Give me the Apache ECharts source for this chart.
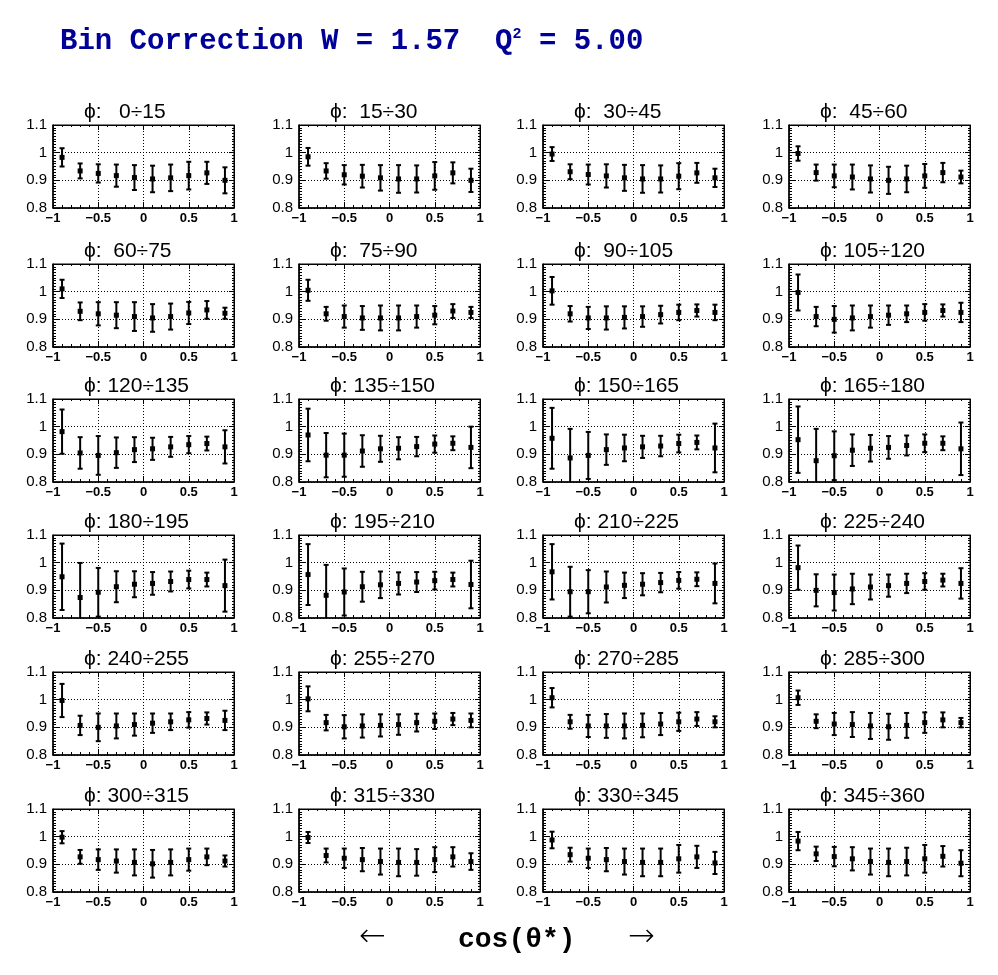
<!DOCTYPE html>
<html><head><meta charset="utf-8">
<script src="https://cdn.jsdelivr.net/npm/echarts@6/dist/echarts.min.js"></script>
<style>html,body{margin:0;padding:0;background:#fff}#c{width:998px;height:975px}</style>
</head><body><div id="c"></div>
<script>
// ---------------- data ----------------
const cosTheta = [-0.9, -0.7, -0.5, -0.3, -0.1, 0.1, 0.3, 0.5, 0.7, 0.9];
const phiLow  = [0, 15, 30, 45, 60, 75, 90, 105, 120, 135, 150, 165, 180, 195, 210, 225, 240, 255, 270, 285, 300, 315, 330, 345];
const phiHigh = [15, 30, 45, 60, 75, 90, 105, 120, 135, 150, 165, 180, 195, 210, 225, 240, 255, 270, 285, 300, 315, 330, 345, 360];
const xTickValues = [-1, -0.5, 0, 0.5, 1];
const yTickValues = [0.8, 0.9, 1.0, 1.1];
const values = [
  [0.983,0.934,0.925,0.917,0.910,0.905,0.909,0.917,0.927,0.900],
  [0.985,0.934,0.920,0.915,0.909,0.905,0.905,0.916,0.927,0.900],
  [0.995,0.931,0.921,0.916,0.909,0.905,0.905,0.915,0.927,0.909],
  [0.997,0.928,0.916,0.912,0.905,0.900,0.905,0.916,0.928,0.912],
  [1.010,0.929,0.920,0.915,0.910,0.905,0.910,0.923,0.934,0.922],
  [1.005,0.920,0.910,0.905,0.905,0.905,0.910,0.915,0.930,0.925],
  [1.003,0.920,0.905,0.905,0.907,0.910,0.917,0.925,0.932,0.925],
  [0.997,0.910,0.900,0.905,0.910,0.915,0.920,0.925,0.932,0.925],
  [0.982,0.905,0.896,0.906,0.917,0.920,0.927,0.935,0.939,0.927],
  [0.970,0.897,0.897,0.912,0.920,0.922,0.928,0.937,0.940,0.925],
  [0.958,0.887,0.896,0.917,0.923,0.927,0.930,0.939,0.943,0.923],
  [0.953,0.877,0.895,0.915,0.922,0.925,0.932,0.940,0.940,0.920],
  [0.949,0.874,0.893,0.913,0.922,0.925,0.932,0.939,0.939,0.917],
  [0.957,0.882,0.894,0.913,0.920,0.925,0.930,0.935,0.939,0.921],
  [0.967,0.895,0.895,0.912,0.918,0.922,0.928,0.936,0.940,0.925],
  [0.982,0.900,0.892,0.905,0.912,0.917,0.925,0.932,0.937,0.925],
  [0.997,0.907,0.900,0.905,0.910,0.915,0.920,0.927,0.932,0.925],
  [1.003,0.917,0.902,0.905,0.907,0.910,0.917,0.922,0.930,0.925],
  [1.007,0.920,0.905,0.905,0.905,0.907,0.912,0.920,0.930,0.920],
  [1.007,0.922,0.912,0.910,0.905,0.902,0.907,0.917,0.927,0.917],
  [0.998,0.927,0.917,0.912,0.907,0.902,0.907,0.917,0.927,0.912],
  [0.997,0.932,0.922,0.917,0.910,0.907,0.907,0.917,0.927,0.910],
  [0.988,0.935,0.922,0.917,0.910,0.907,0.907,0.920,0.927,0.905],
  [0.984,0.938,0.928,0.920,0.910,0.907,0.910,0.920,0.929,0.904]
];
const errors = [
  [0.033,0.027,0.033,0.040,0.045,0.048,0.048,0.050,0.040,0.047],
  [0.032,0.028,0.035,0.041,0.046,0.050,0.049,0.050,0.038,0.042],
  [0.025,0.027,0.036,0.042,0.047,0.050,0.049,0.047,0.036,0.033],
  [0.026,0.029,0.041,0.045,0.049,0.049,0.048,0.043,0.035,0.023],
  [0.033,0.032,0.042,0.047,0.052,0.050,0.047,0.040,0.032,0.020],
  [0.038,0.025,0.040,0.043,0.045,0.045,0.040,0.033,0.025,0.020],
  [0.050,0.028,0.040,0.042,0.040,0.037,0.032,0.028,0.022,0.028],
  [0.065,0.035,0.048,0.045,0.040,0.035,0.030,0.030,0.022,0.035],
  [0.080,0.057,0.070,0.055,0.045,0.040,0.036,0.031,0.025,0.060],
  [0.095,0.080,0.078,0.057,0.047,0.040,0.035,0.031,0.025,0.075],
  [0.110,0.105,0.085,0.055,0.048,0.040,0.037,0.032,0.025,0.088],
  [0.120,0.115,0.088,0.057,0.048,0.041,0.036,0.032,0.025,0.095],
  [0.120,0.125,0.088,0.056,0.047,0.041,0.036,0.032,0.025,0.094],
  [0.110,0.110,0.085,0.054,0.048,0.040,0.036,0.032,0.025,0.086],
  [0.100,0.090,0.078,0.056,0.046,0.040,0.035,0.030,0.025,0.072],
  [0.080,0.058,0.065,0.055,0.045,0.040,0.035,0.030,0.023,0.055],
  [0.060,0.035,0.050,0.045,0.040,0.035,0.030,0.028,0.022,0.035],
  [0.045,0.028,0.042,0.042,0.040,0.037,0.032,0.028,0.022,0.025],
  [0.035,0.025,0.040,0.043,0.045,0.043,0.040,0.033,0.025,0.020],
  [0.026,0.025,0.040,0.045,0.047,0.047,0.045,0.037,0.027,0.017],
  [0.022,0.025,0.037,0.042,0.047,0.050,0.047,0.040,0.030,0.020],
  [0.020,0.025,0.035,0.042,0.047,0.050,0.048,0.045,0.035,0.030],
  [0.030,0.025,0.035,0.042,0.047,0.050,0.050,0.050,0.040,0.040],
  [0.033,0.026,0.035,0.042,0.047,0.050,0.050,0.050,0.037,0.047]
];

// ---------------- layout ----------------
const colLeft = [53, 299, 543, 789];
const rowTop = [125, 264, 399, 535, 672, 809];
const PW = 181, PH = 83;
const Y_MIN = yTickValues[0], Y_MAX = yTickValues[yTickValues.length - 1];
const X_MIN = xTickValues[0], X_MAX = xTickValues[xTickValues.length - 1];
const SANS = 'Liberation Sans, Arial, Helvetica, sans-serif';
const MONO = 'Liberation Mono, Courier New, monospace';

const grids = [], xAxes = [], yAxes = [], series = [], titles = [];
const N = values.length;

function fmtX(v) {
  const r = Math.round(v * 100) / 100;
  return r < 0 ? '\u2212' + Math.abs(r) : String(r);
}

function renderItem(params, api) {
  const x = api.value(0), y = api.value(1), e = api.value(2);
  const lo = Math.max(y - e, Y_MIN), hi = Math.min(y + e, Y_MAX);
  const pc = api.coord([x, y]);
  const pl = api.coord([x, lo]);
  const ph = api.coord([x, hi]);
  const st = { stroke: '#000', lineWidth: 2 };
  const ch = [{ type: 'line', shape: { x1: pc[0], y1: pl[1], x2: pc[0], y2: ph[1] }, style: st }];
  const cw = 2.5;
  if (y - e >= Y_MIN) ch.push({ type: 'line', shape: { x1: pc[0] - cw, y1: pl[1], x2: pc[0] + cw, y2: pl[1] }, style: st });
  if (y + e <= Y_MAX) ch.push({ type: 'line', shape: { x1: pc[0] - cw, y1: ph[1], x2: pc[0] + cw, y2: ph[1] }, style: st });
  ch.push({ type: 'rect', shape: { x: pc[0] - 2.5, y: pc[1] - 2.5, width: 5, height: 5 }, style: { fill: '#000' } });
  return { type: 'group', children: ch };
}

for (let k = 0; k < N; k++) {
  const r = Math.floor(k / 4), c = k % 4;
  grids.push({ left: colLeft[c], top: rowTop[r], width: PW, height: PH, show: true,
    borderColor: '#000', borderWidth: 1, backgroundColor: 'transparent', containLabel: false });
}
for (let k = 0; k < N; k++) {
  xAxes.push({ type: 'value', gridIndex: k, position: 'bottom', min: X_MIN, max: X_MAX, interval: 0.5,
    axisLine: { show: true, onZero: false, lineStyle: { color: '#000', width: 1.5 } },
    axisTick: { show: true, inside: true, length: 6, lineStyle: { color: '#000', width: 1 } },
    minorTick: { show: true, splitNumber: 5, length: 3, lineStyle: { color: '#000', width: 1 } },
    axisLabel: { show: true, margin: 4, color: '#000', fontFamily: SANS, fontWeight: 'bold', fontSize: 13, formatter: fmtX },
    splitLine: { show: true, lineStyle: { color: '#000', width: 1, type: [1, 2] } } });
  yAxes.push({ type: 'value', gridIndex: k, position: 'left', min: Y_MIN, max: Y_MAX, interval: 0.1,
    axisLine: { show: true, onZero: false, lineStyle: { color: '#000', width: 1.5 } },
    axisTick: { show: true, inside: true, length: 6, lineStyle: { color: '#000', width: 1 } },
    minorTick: { show: true, splitNumber: 10, length: 3, lineStyle: { color: '#000', width: 1 } },
    axisLabel: { show: true, margin: 6, color: '#000', fontFamily: SANS, fontSize: 15,
      formatter: v => String(Math.round(v * 100) / 100) },
    splitLine: { show: true, lineStyle: { color: '#000', width: 1, type: [1, 2] } } });
}
for (let k = 0; k < N; k++) {
  xAxes.push({ type: 'value', gridIndex: k, position: 'top', min: X_MIN, max: X_MAX, interval: 0.5,
    axisLine: { show: true, onZero: false, lineStyle: { color: '#000', width: 1 } },
    axisTick: { show: true, inside: true, length: 5, lineStyle: { color: '#000', width: 1 } },
    minorTick: { show: true, splitNumber: 5, length: 2, lineStyle: { color: '#000', width: 1 } },
    axisLabel: { show: false }, splitLine: { show: false } });
  yAxes.push({ type: 'value', gridIndex: k, position: 'right', min: Y_MIN, max: Y_MAX, interval: 0.1,
    axisLine: { show: true, onZero: false, lineStyle: { color: '#000', width: 1 } },
    axisTick: { show: true, inside: true, length: 5, lineStyle: { color: '#000', width: 1 } },
    minorTick: { show: true, splitNumber: 10, length: 2, lineStyle: { color: '#000', width: 1 } },
    axisLabel: { show: false }, splitLine: { show: false } });
}
for (let k = 0; k < N; k++) {
  series.push({ type: 'custom', xAxisIndex: k, yAxisIndex: k, renderItem: renderItem,
    encode: { x: 0, y: 1 }, silent: true,
    data: cosTheta.map((ct, i) => [ct, values[k][i], errors[k][i]]) });
  const r = Math.floor(k / 4), c = k % 4;
  const lbl = '\u03D5: ' + String(phiLow[k]).padStart(3, ' ') + '\u00F7' + phiHigh[k];
  titles.push({ text: lbl, left: colLeft[c] + 31, top: rowTop[r] - 23, padding: 0,
    textStyle: { fontFamily: SANS, fontWeight: 'normal', fontSize: 21, color: '#000' } });
}
titles.push({ text: '{a|Bin Correction W = 1.57  Q}{s|2}{a| = 5.00}', left: 60, top: 27, padding: 0,
  textStyle: { rich: {
    a: { fontFamily: MONO, fontWeight: 'bold', fontSize: 29, color: '#000099' },
    s: { fontFamily: MONO, fontWeight: 'bold', fontSize: 15, color: '#000099', verticalAlign: 'top' } } } });
titles.push({ text: '\u2190', left: 359, top: 922, padding: 0,
  textStyle: { fontFamily: 'DejaVu Sans, sans-serif', fontWeight: 200, fontSize: 32, color: '#000' } });
titles.push({ text: 'cos(\u03B8*)', left: 458, top: 926, padding: 0,
  textStyle: { fontFamily: MONO, fontWeight: 'bold', fontSize: 28, color: '#000' } });
titles.push({ text: '\u2192', left: 628, top: 922, padding: 0,
  textStyle: { fontFamily: 'DejaVu Sans, sans-serif', fontWeight: 200, fontSize: 32, color: '#000' } });

const chart = echarts.init(document.getElementById('c'), null, { renderer: 'canvas' });
chart.setOption({ animation: false, backgroundColor: '#fff', title: titles,
  grid: grids, xAxis: xAxes, yAxis: yAxes, series: series });
</script></body></html>
